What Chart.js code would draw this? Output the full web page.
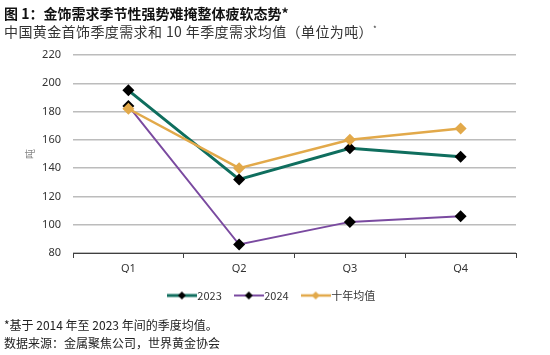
<!DOCTYPE html>
<html><head><meta charset="utf-8">
<script src="https://cdn.jsdelivr.net/npm/chart.js@4.4.1/dist/chart.umd.min.js"></script>
<style>
html,body{margin:0;padding:0;background:#fff;}
#wrap{position:relative;width:550px;height:355px;overflow:hidden;font-family:"Noto Sans CJK SC","Noto Sans",sans-serif;}
canvas{position:absolute;left:0;top:0;}
.t{position:absolute;left:4px;white-space:nowrap;}
sup{font-size:8px;vertical-align:top;position:relative;top:-2px;}
</style></head><body>
<div id="wrap">
<canvas id="c" width="550" height="355"></canvas>
<div class="t" style="top:4px;font-size:14px;font-weight:bold;color:#111;line-height:18px">图 1：金饰需求季节性强势难掩整体疲软态势*</div>
<div class="t" style="top:22px;font-size:14px;color:#333;line-height:18px;letter-spacing:0.4px">中国黄金首饰季度需求和 10 年季度需求均值（单位为吨）<sup>*</sup></div>
<div class="t" style="top:317px;font-size:12px;color:#222;line-height:16px">*基于 2014 年至 2023 年间的季度均值。</div>
<div class="t" style="top:335px;font-size:12px;color:#222;line-height:16px">数据来源：金属聚焦公司，世界黄金协会</div>
</div>
<script>
const categories = ['Q1', 'Q2', 'Q3', 'Q4'];
const seriesNames = ['2023', '2024', '十年均值'];
const values2023 = [195, 132, 154, 148];
const values2024 = [184, 86, 102, 106];
const valuesAvg = [182, 140, 160, 168];
const yTicks = [80, 100, 120, 140, 160, 180, 200, 220];
const yUnit = '吨';

const colors = ['#0f6e5e', '#7a4aa0', '#e2a94a'];
const markerColors = ['#000000', '#000000', '#e2a94a'];
const lineWidths = [3, 2, 2.5];

function legendImg(lineColor, markColor, lw) {
  const cv = document.createElement('canvas');
  cv.width = 30; cv.height = 10;
  const g = cv.getContext('2d');
  g.strokeStyle = lineColor; g.lineWidth = lw;
  g.beginPath(); g.moveTo(0, 5); g.lineTo(30, 5); g.stroke();
  g.fillStyle = markColor;
  g.beginPath(); g.moveTo(15, 1); g.lineTo(19, 5); g.lineTo(15, 9); g.lineTo(11, 5); g.closePath(); g.fill();
  return cv;
}
const legendImgs = [0,1,2].map(i => legendImg(colors[i], markerColors[i], lineWidths[i]));

const allData = [values2023, values2024, valuesAvg];
const datasets = allData.map((d, i) => ({
  label: seriesNames[i],
  data: d,
  borderColor: colors[i],
  backgroundColor: markerColors[i],
  borderWidth: lineWidths[i],
  pointStyle: 'rectRot',
  pointRadius: 6,
  pointHoverRadius: 6,
  pointBackgroundColor: markerColors[i],
  pointBorderColor: markerColors[i],
  pointBorderWidth: 0,
  tension: 0,
  order: [2, 1, 0][i]
}));

new Chart(document.getElementById('c'), {
  type: 'line',
  data: { labels: categories, datasets },
  options: {
    responsive: false,
    animation: false,
    devicePixelRatio: 1,
    layout: { padding: { left: 31, right: 34, top: 55, bottom: 44 } },
    plugins: {
      tooltip: { enabled: false },
      title: { display: false },
      legend: {
        display: true,
        position: 'bottom',
        labels: {
          usePointStyle: true,
          pointStyleWidth: 20,
          padding: 17,
          color: '#333',
          font: { family: 'Noto Sans CJK SC', size: 11 },
          generateLabels: (chart) => chart.data.datasets.map((ds, i) => ({
            text: ds.label,
            pointStyle: legendImgs[i],
            fillStyle: 'transparent',
            strokeStyle: 'transparent',
            lineWidth: 0,
            fontColor: '#333',
            datasetIndex: i,
            hidden: false
          }))
        }
      }
    },
    scales: {
      x: {
        offset: true,
        afterFit: (s) => { s.height = 20; },
        grid: { offset: true, drawOnChartArea: false, drawTicks: true, tickLength: 5, color: '#404040' },
        border: { display: true, color: '#404040', width: 1 },
        ticks: { color: '#333', padding: 4, font: { family: 'Noto Sans', size: 11 } }
      },
      y: {
        min: 80, max: 220,
        afterFit: (s) => { s.width = 42; },
        afterBuildTicks: (s) => { s.ticks = yTicks.map(v => ({ value: v })); },
        grid: { drawTicks: false, color: '#bcbcbc', lineWidth: 1.5 },
        border: { display: false },
        ticks: { color: '#333', padding: 12, font: { family: 'Noto Sans', size: 11 } },
        title: { display: true, text: yUnit, color: '#888', font: { family: 'Noto Sans CJK SC', size: 10 }, padding: { top: -7, bottom: 0 } }
      }
    }
  }
});
</script>
</body></html>
